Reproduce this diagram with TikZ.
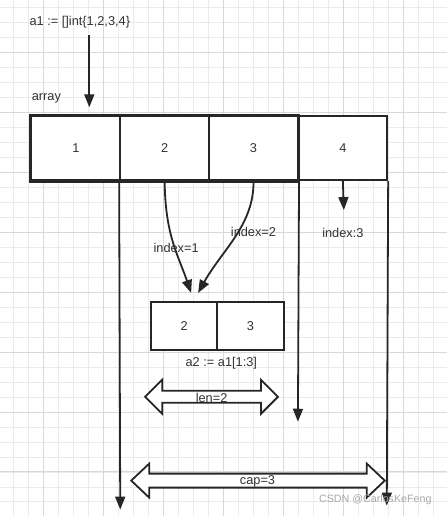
\documentclass[tikz,border=0pt]{standalone}
\usepackage{fontspec}
\setmainfont{Liberation Sans}
\usetikzlibrary{arrows.meta,positioning}
\definecolor{SliceInk}{HTML}{262626}
\definecolor{SliceText}{HTML}{333333}
\definecolor{GridMinor}{HTML}{EAEAEA}
\definecolor{GridMajor}{HTML}{D8D8D8}
\definecolor{MarkGray}{HTML}{A8A8A8}

\begin{document}
\begin{tikzpicture}[
      x=1pt,y=-1pt,
      txt/.style={text=SliceText,inner sep=0pt,
        font=\fontsize{12.8}{15}\selectfont},
      cell/.style={draw=SliceInk,line width=2.2pt,fill=white,
        minimum width=89pt,minimum height=64pt,txt},
      lastcell/.style={cell,line width=1.8pt},
      subcell/.style={cell,line width=2pt,minimum width=66.5pt,
        minimum height=48pt},
      pointer/.style={-{Triangle[length=13pt,width=10pt]},
        draw=SliceInk,line width=1.8pt},
      fatarrow/.style={draw=SliceInk,line width=1.8pt,fill=white,
        line join=miter}
    ]
      % background grid
      \fill[white] (0,0) rectangle (447,516);
      \foreach \gx in {0,...,28}
        \draw[GridMinor,line width=0.8pt] (13.3+15*\gx,0) -- (13.3+15*\gx,516);
      \foreach \gy in {0,...,33}
        \draw[GridMinor,line width=0.8pt] (0,7.3+15*\gy) -- (447,7.3+15*\gy);
      \foreach \gx in {0,...,6}
        \draw[GridMajor,line width=0.9pt] (43.3+60*\gx,0) -- (43.3+60*\gx,516);
      \foreach \gy in {0,...,7}
        \draw[GridMajor,line width=0.9pt] (0,52.3+60*\gy) -- (447,52.3+60*\gy);
      \useasboundingbox (0,0) rectangle (447,516);

      \node[txt] (decl) at (79.5,22) {a1 := []int\{1,2,3,4\}};
      \node[txt] (arrlabel) at (46,98) {array};

      % the backing array
      \node[cell] (c1) at (75.5,148) {1};
      \node[cell] (c2) at (164.5,148) {2};
      \node[cell] (c3) at (253.5,148) {3};
      \node[lastcell] (c4) at (343,148) {4};
      \draw[SliceInk,line width=2.6pt] (c1.north west) rectangle (c3.south east);

      \coordinate (declend) at (89,107);
      \draw[pointer] (89,35) -- (declend);

      % the slice a2
      \node[subcell] (s1) at (184,326) {2};
      \node[subcell] (s2) at (250.5,326) {3};
      \node[txt,below=6pt of s1.south east,xshift=3pt] (decl2)
        {a2 := a1[1:3]};

      \coordinate (tip1) at (191,293);
      \coordinate (tip2) at (198,293);
      \draw[pointer] (c2.south) .. controls (165,235) and (178,255) .. (tip1);
      \draw[pointer] (c3.south) .. controls (254,225) and (222,250) .. (tip2);
      \node[txt] (idx1) at (176,248) {index=1};
      \node[txt] (idx2) at (253.5,232) {index=2};

      \coordinate (idx3end) at (344,210);
      \draw[pointer] (c4.south) -- (idx3end);
      \node[txt] (idx3) at (343,233) {index:3};

      % extent of the slice
      \coordinate (startend) at (120,510);
      \coordinate (lenend) at (298,422);
      \coordinate (capend) at (387,506);
      \draw[pointer] (c2.south west) -- (startend);
      \draw[pointer] (c3.south east) -- (lenend);
      \draw[pointer] (c4.south east) -- (capend);

      \draw[fatarrow] (145,397) -- (162,380) -- (162,391) -- (261,391)
        -- (261,380) -- (278,397) -- (261,414) -- (261,403) -- (162,403)
        -- (162,414) -- cycle;
      \node[txt] (len) at (211.5,398) {len=2};

      \draw[fatarrow] (131,481) -- (149,464) -- (149,474) -- (367,474)
        -- (367,464) -- (385,481) -- (367,498) -- (367,488) -- (149,488)
        -- (149,498) -- cycle;
      \node[txt] (cap) at (257.5,482) {cap=3};

      \node[text=MarkGray,inner sep=0pt,font=\fontsize{10.7}{13}\selectfont]
        (mark) at (375.5,500) {CSDN @CarlosKeFeng};
    \end{tikzpicture}
\end{document}
